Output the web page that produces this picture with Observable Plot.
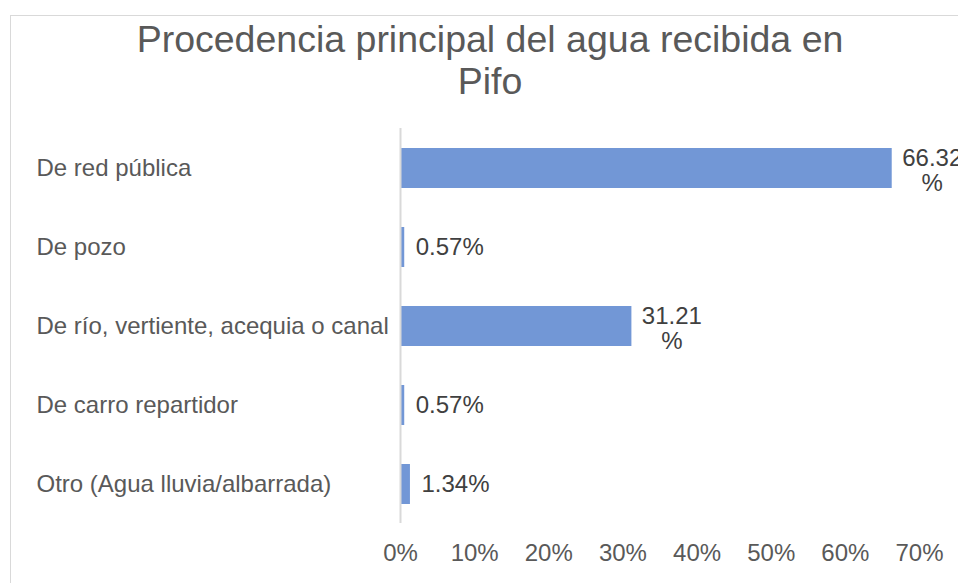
<!DOCTYPE html>
<html>
<head>
<meta charset="utf-8">
<script src="https://cdn.jsdelivr.net/npm/d3@7"></script>
<script src="https://cdn.jsdelivr.net/npm/@observablehq/plot@0.6"></script>
<style>
  html, body { margin: 0; padding: 0; background: #fff; width: 958px; height: 583px; overflow: hidden; }
  body { position: relative; font-family: "Liberation Sans", Arial, sans-serif; }
  #frame { position: absolute; left: 10px; top: 15px; width: 1000px; height: 1000px;
           border-left: 1px solid #d9d9d9; border-top: 1px solid #d9d9d9; box-sizing: border-box; }
  #title { position: absolute; left: 0; top: 18px; width: 980px; text-align: center;
           font-size: 37.5px; line-height: 42px; color: #595959; white-space: nowrap; }
  #chart { position: absolute; left: 0; top: 110px; }
</style>
</head>
<body>
<div id="frame"></div>
<div id="title">Procedencia principal del agua recibida en<br>Pifo</div>
<div id="chart"></div>
<script>
const categories = [
  "De red pública",
  "De pozo",
  "De río, vertiente, acequia o canal",
  "De carro repartidor",
  "Otro (Agua lluvia/albarrada)"
];
const values = [66.32, 0.57, 31.21, 0.57, 1.34];
const valueLabels = ["66.32\n%", "0.57%", "31.21\n%", "0.57%", "1.34%"];
const xTicks = [0, 10, 20, 30, 40, 50, 60, 70];
const xTickLabels = ["0%", "10%", "20%", "30%", "40%", "50%", "60%", "70%"];

const data = categories.map((c, i) => ({category: c, value: values[i], label: valueLabels[i]}));
const wrapped = data.filter(d => d.label.includes("\n"));
const single = data.filter(d => !d.label.includes("\n"));

const chart = Plot.plot({
  width: 958,
  height: 473,
  marginTop: 18,
  marginBottom: 60,
  marginLeft: 400,
  marginRight: 39,
  style: {fontFamily: "Liberation Sans, Arial, sans-serif", fontSize: "24px", overflow: "hidden"},
  x: {domain: [0, 70], ticks: xTicks},
  y: {domain: categories, paddingInner: 0.5, paddingOuter: 0.25},
  marks: [
    Plot.barX(data, {x: "value", y: "category", fill: "#7297d6"}),
    Plot.ruleX([0], {stroke: "#d9d9d9", strokeWidth: 2}),
    Plot.text(single, {x: "value", y: "category", text: "label", textAnchor: "start", dx: 11,
      fill: "#404040", fontSize: 24}),
    Plot.text(wrapped, {x: "value", y: "category", text: "label", textAnchor: "middle", dx: 40, dy: 2,
      lineHeight: 1.05, fill: "#404040", fontSize: 24}),
    Plot.axisX({ticks: xTicks, tickFormat: (d) => xTickLabels[xTicks.indexOf(d)], tickSize: 0,
      tickPadding: 20, label: null, fill: "#595959", fontSize: 24}),
    Plot.axisY({tickSize: 0, tickPadding: 364, textAnchor: "start", label: null,
      fill: "#595959", fontSize: 24})
  ]
});
document.getElementById("chart").appendChild(chart);
</script>
</body>
</html>
